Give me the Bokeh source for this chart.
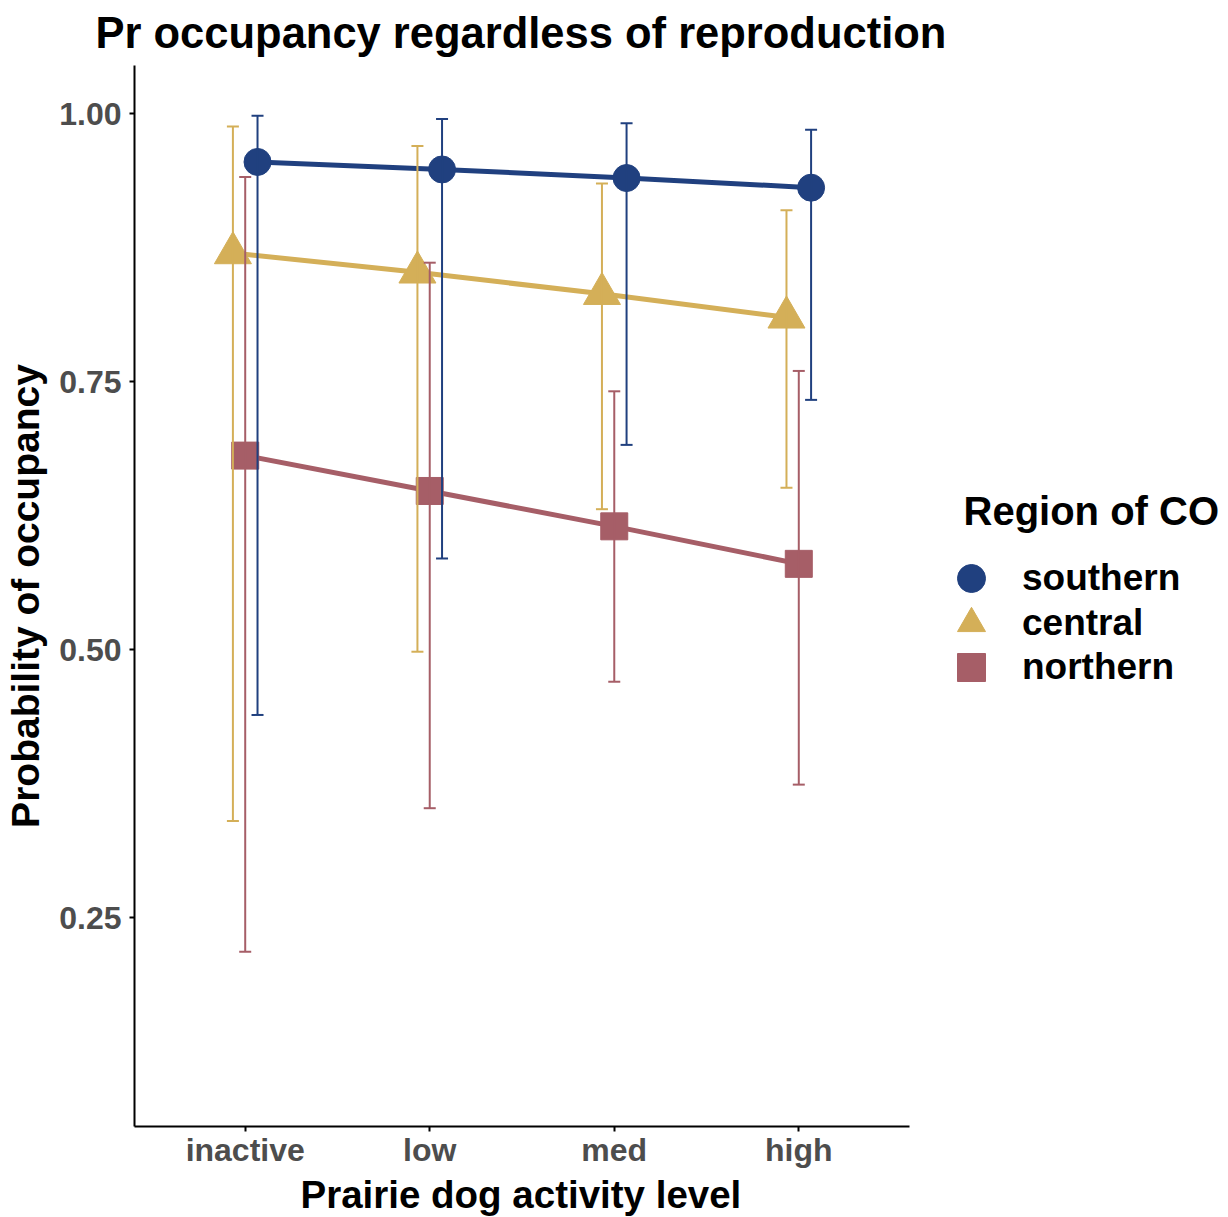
from bokeh.plotting import figure
from bokeh.models import (Range1d, Legend, LegendItem, FixedTicker, Title, Label,
                          ColumnDataSource, NumeralTickFormatter)
from bokeh.transform import dodge
from bokeh.embed import file_html
from bokeh.resources import INLINE

# ---- data ----
levels = ["inactive", "low", "med", "high"]
regions = ["southern", "central", "northern"]

southern_est = [0.955, 0.948, 0.940, 0.931]
southern_lo = [0.439, 0.585, 0.691, 0.733]
southern_hi = [0.998, 0.995, 0.991, 0.985]

central_est = [0.870, 0.852, 0.832, 0.810]
central_lo = [0.340, 0.498, 0.631, 0.651]
central_hi = [0.988, 0.970, 0.935, 0.910]

northern_est = [0.681, 0.648, 0.615, 0.580]
northern_lo = [0.218, 0.352, 0.470, 0.374]
northern_hi = [0.941, 0.861, 0.741, 0.760]

y_ticks = [0.25, 0.50, 0.75, 1.00]

# ---- styles ----
colors = {"southern": "#20407F", "central": "#D4AF58", "northern": "#A65E67"}
markers = {"southern": "circle", "central": "triangle", "northern": "square"}
sizes = {"southern": 27, "central": 37, "northern": 27}
offsets = {"southern": 0.0667, "central": -0.0667, "northern": 0.0}
series = {
    "southern": (southern_est, southern_lo, southern_hi),
    "central": (central_est, central_lo, central_hi),
    "northern": (northern_est, northern_lo, northern_hi),
}

FONT = "Liberation Sans"

# categorical positions 1..n on a numeric scale (ggplot-style discrete axis)
level_pos = list(range(1, len(levels) + 1))
x_lo = 0.4
x_hi_axis = len(levels) + 0.6
frame_w_axis = 775.0              # pixels of the axis part of the panel
frame_w = 1228 - 134              # panel extends under the legend
x_hi = x_lo + (x_hi_axis - x_lo) * frame_w / frame_w_axis

p = figure(width=1228, height=1217,
           x_range=Range1d(x_lo, x_hi),
           y_range=Range1d(0.055, 1.045),
           output_backend="svg", toolbar_location=None,
           min_border_left=134, min_border_right=0,
           min_border_top=65, min_border_bottom=91)

p.title.text = "Pr occupancy regardless of reproduction"
p.title.text_font = FONT
p.title.text_font_style = "bold"
p.title.text_font_size = "43.5px"
p.title.text_color = "black"
p.title.align = "left"
p.title.offset = -39
p.title.vertical_align = "top"
p.title.standoff = 14

p.background_fill_color = "white"
p.border_fill_color = "white"
p.outline_line_color = None
p.xgrid.visible = False
p.ygrid.visible = False

scatters = {}
for r in regions:
    est, lo, hi = series[r]
    src = ColumnDataSource(dict(pos=level_pos, est=est, lo=lo, hi=hi))
    xs = dodge("pos", offsets[r])
    c = colors[r]
    p.line(x=xs, y="est", line_color=c, line_width=5, source=src)
    scatters[r] = p.scatter(x=xs, y="est", marker=markers[r], size=sizes[r],
                            fill_color=c, line_color=c, source=src)

for r in regions:
    est, lo, hi = series[r]
    src = ColumnDataSource(dict(pos=level_pos, est=est, lo=lo, hi=hi))
    xs = dodge("pos", offsets[r])
    c = colors[r]
    p.segment(x0=xs, y0="lo", x1=xs, y1="hi", line_color=c, line_width=2, source=src)
    p.scatter(x=xs, y="lo", marker="dash", size=12, line_color=c, line_width=2, source=src)
    p.scatter(x=xs, y="hi", marker="dash", size=12, line_color=c, line_width=2, source=src)

# axes
p.xaxis.ticker = FixedTicker(ticks=level_pos)
p.xaxis.major_label_overrides = {pos: lab for pos, lab in zip(level_pos, levels)}
p.xaxis.bounds = (x_lo, x_hi_axis)
p.yaxis.ticker = FixedTicker(ticks=y_ticks)
p.yaxis.formatter = NumeralTickFormatter(format="0.00")
for ax in (p.xaxis[0], p.yaxis[0]):
    ax.axis_line_color = "black"
    ax.axis_line_width = 2
    ax.major_tick_line_color = "black"
    ax.major_tick_line_width = 2
    ax.major_tick_out = 5
    ax.major_tick_in = 0
    ax.minor_tick_line_color = None
    ax.major_label_text_font = FONT
    ax.major_label_text_font_style = "bold"
    ax.major_label_text_font_size = "32px"
    ax.major_label_text_color = "#4D4D4D"
    ax.axis_label_text_font = FONT
    ax.axis_label_text_font_style = "bold"
    ax.axis_label_text_font_size = "39px"
    ax.axis_label_text_color = "black"

p.yaxis.axis_label = "Probability of occupancy"
p.xaxis.major_label_standoff = 0
p.yaxis.major_label_standoff = 8
p.yaxis.axis_label_standoff = 9

# x-axis title, centred under the axis part of the panel
xtitle = Title(text="Prairie dog activity level", align="left", offset=166,
               text_font=FONT, text_font_style="bold", text_font_size="38.5px",
               text_color="black", standoff=0)
p.add_layout(xtitle, "below")

# legend: one entry per region, stacked like the reference
legend_rows = {"southern": 513, "central": 468, "northern": 424}
for r in regions:
    lg = Legend(
        items=[LegendItem(label=r, renderers=[scatters[r]])],
        location=(802, legend_rows[r]),
        orientation="vertical",
        margin=0, padding=0,
        glyph_width=70, glyph_height=70,
        label_standoff=16,
        label_text_font=FONT, label_text_font_style="bold", label_text_font_size="37px",
        label_text_color="black",
        border_line_color=None, background_fill_alpha=0,
    )
    p.add_layout(lg)

legend_title = Label(x=829, y=616, x_units="screen", y_units="screen",
                     text="Region of CO", text_font=FONT, text_font_style="bold",
                     text_font_size="40px", text_color="black",
                     text_baseline="middle", text_align="left")
p.add_layout(legend_title)

open("out.html", "w").write(file_html(p, INLINE))
